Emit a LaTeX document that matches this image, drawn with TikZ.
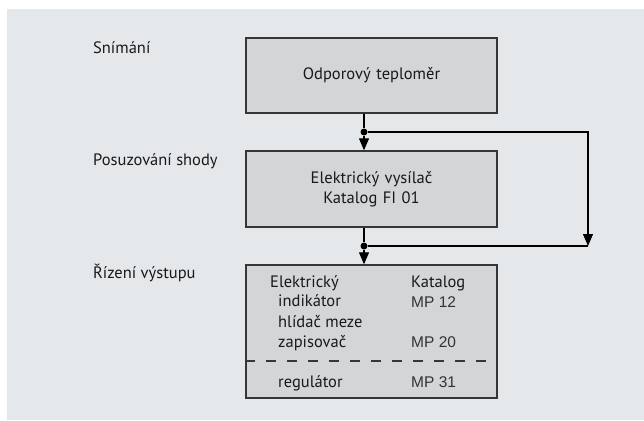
\documentclass[tikz,border=0pt]{standalone}
\usepackage{fontspec}
\setmainfont{PT Sans}
\newfontfamily\arialfont{Liberation Sans}
\usetikzlibrary{arrows.meta}
\definecolor{panelgray}{HTML}{E5E8EB}
\definecolor{boxgray}{HTML}{D4D5D7}
\definecolor{edgegray}{HTML}{363636}
\begin{document}
\begin{tikzpicture}[x=1pt, y=-1pt, font=\fontsize{16.5}{20}\selectfont, text=black!90]
  % Define block styles
  \tikzstyle{block} = [rectangle, draw=edgegray, fill=boxgray, line width=1.4pt, text width=240pt, align=center, minimum width=251pt, inner sep=0pt]
  \tikzstyle{line} = [draw=black, line width=1.2pt, -{Triangle[width=10pt,length=12pt]}]
  \tikzstyle{stage} = [anchor=base west, inner sep=0pt]
  \tikzstyle{entry} = [anchor=base west, inner sep=0pt]
  \tikzstyle{code} = [anchor=base west, inner sep=0pt, font=\arialfont\fontsize{15.5}{18}\selectfont, text=black!80]
  \tikzstyle{junction} = [circle, fill=black, inner sep=0pt, minimum size=7pt]

  % Background panel
  \useasboundingbox (0,0) rectangle (644,420);
  \fill[panelgray] (7,9) rectangle (644,420);

  % Place blocks
  \node [block, minimum height=75pt] (sensor) at (371.5,75.5) {Odporový teploměr};
  \node [block, minimum height=76pt, below of=sensor, node distance=113.5pt] (transmitter) {Elektrický vysílač\\Katalog FI 01};
  \node [block, minimum height=133pt, below of=transmitter, node distance=142.5pt] (output) {};
  \draw [edgegray, line width=1.2pt, dash pattern=on 10pt off 11pt] (output.west |- 0,361) -- (output.east |- 0,361);

  % Stage labels
  \node [stage] (sensing) at (93,53) {Snímání};
  \node [stage] (assessment) at (93,165) {Posuzování shody};
  \node [stage] (control) at (93,278) {Řízení výstupu};

  % Output block contents
  \node [entry] (electric) at (270,287) {Elektrický};
  \node [entry] (indicator) at (278,306) {indikátor};
  \node [entry] (limiter) at (278,327) {hlídač meze};
  \node [entry] (recorder) at (278,347) {zapisovač};
  \node [entry] (regulator) at (278,387) {regulátor};
  \node [entry] (catalog) at (411,287) {Katalog};
  \node [code] (mp12) at (411,307) {MP 12};
  \node [code] (mp20) at (411,347) {MP 20};
  \node [code] (mp31) at (411,387) {MP 31};

  % Junctions and corners
  \node [junction] (split) at (364,132) {};
  \node [junction] (merge) at (364,246) {};
  \coordinate (bypass) at (588,246);

  % Draw lines
  \draw [black, line width=1.2pt] (sensor.south -| split) -- (split);
  \path [line] (split) -- (transmitter.north -| split);
  \path [line] (split) -| (bypass);
  \draw [black, line width=1.2pt] (transmitter.south -| merge) -- (merge) -- (bypass);
  \path [line] (merge) -- (output.north -| merge);
\end{tikzpicture}
\end{document}
